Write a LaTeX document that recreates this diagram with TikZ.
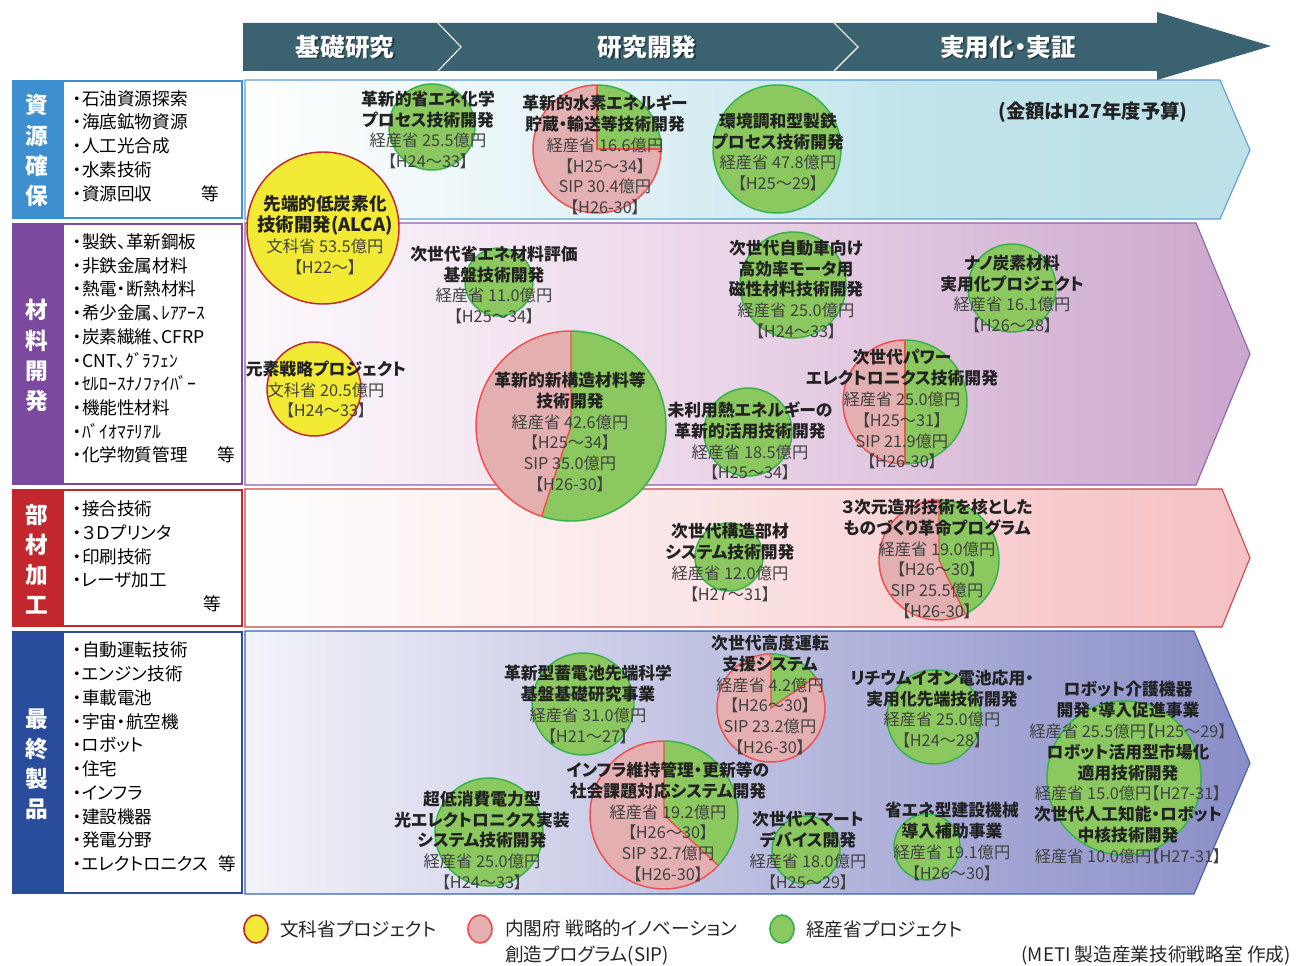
\documentclass[tikz,border=0pt]{standalone}
\usepackage{fontspec}
\setmainfont{Noto Sans CJK JP}[RawFeature={+palt}]
\usepackage{tikz}
\definecolor{hdr}{HTML}{3B6270}
\definecolor{c1}{HTML}{3D8FD0}
\definecolor{c2}{HTML}{7B4A9E}
\definecolor{c3}{HTML}{C1272D}
\definecolor{c4}{HTML}{2A4C9C}
\definecolor{bA}{HTML}{5A9FD4}
\definecolor{bB}{HTML}{8E60AE}
\definecolor{bC}{HTML}{C9444A}
\definecolor{bD}{HTML}{3F61B0}
\definecolor{greenF}{HTML}{8CC860}
\definecolor{greenB}{HTML}{36B24A}
\definecolor{pinkF}{HTML}{E3AFB1}
\definecolor{pinkB}{HTML}{EE5050}
\definecolor{yelF}{HTML}{F2EA35}
\definecolor{yelB}{HTML}{C0272D}
\definecolor{ttl}{HTML}{222222}
\definecolor{dtl}{HTML}{404040}
\definecolor{gA1}{HTML}{E3F2F6}
\definecolor{gA2}{HTML}{C2E4EC}
\definecolor{gA3}{HTML}{BCE1E9}
\definecolor{gB0}{HTML}{FDF9FD}
\definecolor{gB1}{HTML}{EBD6E9}
\definecolor{gB2}{HTML}{CBA6CD}
\definecolor{gC1}{HTML}{FBE4E5}
\definecolor{gC2}{HTML}{F8CED1}
\definecolor{gC3}{HTML}{F5C0C3}
\definecolor{gD0}{HTML}{F3F3F9}
\definecolor{gD1}{HTML}{C0C2E2}
\definecolor{gD2}{HTML}{8A8EC7}
\pgfdeclarehorizontalshading{shA}{100bp}{color(0bp)=(white); color(25bp)=(white); color(42bp)=(gA1); color(58bp)=(gA2); color(75bp)=(gA3); color(100bp)=(gA3)}
\pgfdeclarehorizontalshading{shB}{100bp}{color(0bp)=(gB0); color(25bp)=(gB0); color(48bp)=(gB1); color(75bp)=(gB2); color(100bp)=(gB2)}
\pgfdeclarehorizontalshading{shC}{100bp}{color(0bp)=(white); color(25bp)=(white); color(48bp)=(gC1); color(63bp)=(gC2); color(75bp)=(gC3); color(100bp)=(gC3)}
\pgfdeclarehorizontalshading{shD}{100bp}{color(0bp)=(gD0); color(25bp)=(gD0); color(48bp)=(gD1); color(75bp)=(gD2); color(100bp)=(gD2)}
\newcommand{\tl}[1]{{\fontsize{12.6}{15.6}\selectfont\bfseries\color{ttl}#1}}
% pie: x y r a b  -- pink from visual angle a to b (ccw), green the rest
\newcommand{\pie}[5]{%
  \fill[pinkF] (#1,#2) -- ++({-#4}:#3) arc[start angle={-#4}, end angle={-#5}, radius=#3] -- cycle;
  \fill[greenF] (#1,#2) -- ++({-#5}:#3) arc[start angle={-#5}, end angle={-#4-360}, radius=#3] -- cycle;
  \draw[pinkB, line width=1.1pt] (#1,#2) ++({-#4}:#3) arc[start angle={-#4}, end angle={-#5}, radius=#3];
  \draw[greenB, line width=1.1pt] (#1,#2) ++({-#5}:#3) arc[start angle={-#5}, end angle={-#4-360}, radius=#3];
  \draw[pinkB, line width=1.1pt] (#1,#2) ++({-#4}:#3) -- (#1,#2) -- ++({-#5}:#3);
}
\tikzset{
  every node/.style={inner sep=0pt},
  ptxt/.style={align=center, font=\fontsize{12.2}{15.6}\selectfont, text=dtl},
  gcirc/.style={draw=greenB, fill=greenF, line width=1.1pt},
  ycirc/.style={draw=yelB, fill=yelF, line width=1.1pt},
  lst/.style={align=left, anchor=west, font=\fontsize{13.2}{17.8}\selectfont, text=black},
  vlab/.style={align=center, font=\fontsize{17}{22.6}\selectfont\bfseries, text=white},
  hdrtxt/.style={font=\fontsize{18.5}{20}\selectfont\bfseries, text=white},
  hdrshadow/.style={font=\fontsize{18.5}{20}\selectfont\bfseries, text=black, opacity=0.45},
  lgd/.style={anchor=west, align=left, font=\fontsize{14}{19.5}\selectfont, text=black!85},
}
\begin{document}
\begin{tikzpicture}[x=0.75pt,y=-0.75pt]
\useasboundingbox (0,0) rectangle (1297,966);
\fill[white] (0,0) rectangle (1297,966);

% ---------- row 1 ----------
\path[shade, shading=shA, draw=bA, line width=0.8pt] (245,80) -- (1220,80) -- (1250,150) -- (1220,219) -- (245,219) -- cycle;
\fill[c1] (12,80) rectangle (62,219);
\draw[c1, line width=1.6pt, fill=white] (63,81) rectangle (242,218);
% ---------- row 2 ----------
\path[shade, shading=shB, draw=bB, line width=0.8pt] (245,223) -- (1196,223) -- (1250,354) -- (1196,485) -- (245,485) -- cycle;
\fill[c2] (12,223) rectangle (62,485);
\draw[c2, line width=1.6pt, fill=white] (63,224) rectangle (242,484);
% ---------- row 3 ----------
\path[shade, shading=shC, draw=bC, line width=0.8pt] (245,489) -- (1222,489) -- (1250,558) -- (1222,627) -- (245,627) -- cycle;
\fill[c3] (12,489) rectangle (62,627);
\draw[c3, line width=1.6pt, fill=white] (63,490) rectangle (242,626);
% ---------- row 4 ----------
\path[shade, shading=shD, draw=bD, line width=0.8pt] (245,631) -- (1194,631) -- (1250,763) -- (1194,894) -- (245,894) -- cycle;
\fill[c4] (12,631) rectangle (62,894);
\draw[c4, line width=1.6pt, fill=white] (63,632) rectangle (242,893);

% ---------- header arrow ----------
\fill[hdr] (243,23) -- (1157,23) -- (1157,12) -- (1271,46) -- (1157,80) -- (1157,71) -- (243,71) -- cycle;
\draw[white, line width=0.8pt] (438,23) -- (461,47) -- (438,71);
\draw[white, line width=0.8pt] (834,23) -- (858,47) -- (834,71);
\node[hdrshadow] (h1s) at (346.5,48.5) {基礎研究};
\node[hdrtxt] (h1) at (345,47) {基礎研究};
\node[hdrshadow] (h2s) at (648.5,48.5) {研究開発};
\node[hdrtxt] (h2) at (647,47) {研究開発};
\node[hdrshadow] (h3s) at (1009.5,48.5) {実用化・実証};
\node[hdrtxt] (h3) at (1008,47) {実用化・実証};

% ---------- left labels ----------
\node[vlab] (v1) at (37,150.5) {資\\源\\確\\保};
\node[vlab] (v2) at (37,355.5) {材\\料\\開\\発};
\node[vlab] (v3) at (37,559) {部\\材\\加\\工};
\node[vlab] (v4) at (37,764) {最\\終\\製\\品};

\node[lst] (l1) at (73,146) {・石油資源探索\\・海底鉱物資源\\・人工光合成\\・水素技術\\\makebox[96pt][l]{・資源回収}等};
\node[lst] (l2) at (73,348.5) {・製鉄、革新鋼板\\・非鉄金属材料\\・熱電・断熱材料\\・希少金属、ﾚｱｱｰｽ\\・炭素繊維、CFRP\\・CNT、ｸﾞﾗﾌｪﾝ\\・ｾﾙﾛｰｽﾅﾉﾌｧｲﾊﾞｰ\\・機能性材料\\・ﾊﾞｲｵﾏﾃﾘｱﾙ\\\makebox[108pt][l]{・化学物質管理}等};
\node[lst] (l3) at (73,556.5) {・接合技術\\・３Ｄプリンタ\\・印刷技術\\・レーザ加工\\\makebox[98pt][l]{}等};
\node[lst] (l4) at (73,757) {・自動運転技術\\・エンジン技術\\・車載電池\\・宇宙・航空機\\・ロボット\\・住宅\\・インフラ\\・建設機器\\・発電分野\\\makebox[109pt][l]{・エレクトロニクス}等};

% ---------- circles ----------
\draw[gcirc] (432,127) circle[radius=43];
\pie{597}{149}{64}{90}{360}
\draw[gcirc] (777,149) circle[radius=64];
\draw[ycirc] (323,228) circle[radius=76];
\draw[gcirc] (499,282) circle[radius=34];
\draw[ycirc] (314,389) circle[radius=47];
\pie{571}{426}{95}{90}{252}
\draw[gcirc] (793,285) circle[radius=53];
\draw[gcirc] (1012,288) circle[radius=44];
\pie{905}{402}{62}{90}{270}
\draw[gcirc] (748,432) circle[radius=44];
\draw[gcirc] (729,557) circle[radius=34];
\pie{939}{560}{60}{90}{296}
\draw[gcirc] (583,704) circle[radius=51];
\pie{771}{708}{54}{90}{395}
\draw[gcirc] (934,717) circle[radius=47];
\draw[gcirc] (1124,778) circle[radius=77];
\pie{664}{815}{74}{90}{317}
\draw[gcirc] (489,832) circle[radius=54];
\draw[gcirc] (806,850) circle[radius=34];
\draw[gcirc] (927,847) circle[radius=33];

% ---------- texts ----------
\node[ptxt] (t1) at (428,130) {\tl{革新的省エネ化学}\\\tl{プロセス技術開発}\\経産省 25.5億円\\【H24～33】};
\node[ptxt] (t2) at (605,155) {\tl{革新的水素エネルギー}\\\tl{貯蔵・輸送等技術開発}\\経産省 16.6億円\\【H25～34】\\SIP 30.4億円\\【H26-30】};
\node[ptxt] (t3) at (778,152) {\tl{環境調和型製鉄}\\\tl{プロセス技術開発}\\経産省 47.8億円\\【H25～29】};
\node[font=\fontsize{14.5}{16}\selectfont\bfseries, text=ttl] (note) at (1093,112) {(金額はH27年度予算)};
\node[ptxt] (t4) at (325,235) {{\fontsize{13.2}{15.6}\selectfont\bfseries\color{ttl}先端的低炭素化}\\{\fontsize{13.8}{15.6}\selectfont\bfseries\color{ttl}技術開発(ALCA)}\\文科省 53.5億円\\【H22～】};
\node[ptxt] (t5) at (494,285) {\tl{次世代省エネ材料評価}\\\tl{基盤技術開発}\\経産省 11.0億円\\【H25～34】};
\node[ptxt] (t6) at (326,389.5) {\tl{元素戦略プロジェクト}\\文科省 20.5億円\\【H24～33】};
\node[ptxt] (t7) at (570,432) {\tl{革新的新構造材料等}\\\tl{技術開発}\\経産省 42.6億円\\【H25～34】\\SIP 35.0億円\\【H26-30】};
\node[ptxt] (t8) at (796,289.5) {\tl{次世代自動車向け}\\\tl{高効率モータ用}\\\tl{磁性材料技術開発}\\経産省 25.0億円\\【H24～33】};
\node[ptxt] (t9) at (1012,294) {\tl{ナノ炭素材料}\\\tl{実用化プロジェクト}\\経産省 16.1億円\\【H26～28】};
\node[ptxt] (t10) at (902,409.5) {\tl{次世代パワー}\\\tl{エレクトロニクス技術開発}\\経産省 25.0億円\\【H25～31】\\SIP 21.9億円\\【H26-30】};
\node[ptxt] (t11) at (750,441) {\tl{未利用熱エネルギーの}\\\tl{革新的活用技術開発}\\経産省 18.5億円\\【H25～34】};
\node[ptxt] (t12) at (730,562.5) {\tl{次世代構造部材}\\\tl{システム技術開発}\\経産省 12.0億円\\【H27～31】};
\node[ptxt] (t13) at (937,559) {\tl{３次元造形技術を核とした}\\\tl{ものづくり革命プログラム}\\経産省 19.0億円\\【H26～30】\\SIP 25.5億円\\【H26-30】};
\node[ptxt] (t14) at (588,704.5) {\tl{革新型蓄電池先端科学}\\\tl{基盤基礎研究事業}\\経産省 31.0億円\\【H21～27】};
\node[ptxt] (t15) at (770,695) {\tl{次世代高度運転}\\\tl{支援システム}\\経産省 4.2億円\\【H26～30】\\SIP 23.2億円\\【H26-30】};
\node[ptxt] (t16) at (942,709) {\tl{リチウムイオン電池応用・}\\\tl{実用化先端技術開発}\\経産省 25.0億円\\【H24～28】};
\node[ptxt] (t17) at (1128,772.5) {\tl{ロボット介護機器}\\\tl{開発・導入促進事業}\\経産省 25.5億円【H25～29】\\\tl{ロボット活用型市場化}\\\tl{適用技術開発}\\経産省 15.0億円【H27-31】\\\tl{次世代人工知能・ロボット}\\\tl{中核技術開発}\\経産省 10.0億円【H27-31】};
\node[ptxt] (t18) at (668,822) {\tl{インフラ維持管理・更新等の}\\\tl{社会課題対応システム開発}\\経産省 19.2億円\\【H26～30】\\SIP 32.7億円\\【H26-30】};
\node[ptxt] (t19) at (482,840.5) {\tl{超低消費電力型}\\\tl{光エレクトロニクス実装}\\\tl{システム技術開発}\\経産省 25.0億円\\【H24～33】};
\node[ptxt] (t20) at (808,850.5) {\tl{次世代スマート}\\\tl{デバイス開発}\\経産省 18.0億円\\【H25～29】};
\node[ptxt] (t21) at (952,841.5) {\tl{省エネ型建設機械}\\\tl{導入補助事業}\\経産省 19.1億円\\【H26～30】};

% ---------- legend ----------
\draw[yelB, fill=yelF, line width=1.2pt] (256,929) ellipse[x radius=12, y radius=14];
\node[lgd] (g1) at (280,929) {文科省プロジェクト};
\draw[pinkB, fill=pinkF, line width=1.2pt] (480,929) ellipse[x radius=12, y radius=14];
\node[lgd] (g2) at (505,942) {内閣府 戦略的イノベーション\\創造プログラム(SIP)};
\draw[greenB, fill=greenF, line width=1.2pt] (782,929) ellipse[x radius=12, y radius=14];
\node[lgd] (g3) at (806,929) {経産省プロジェクト};
\node[anchor=east, font=\fontsize{14}{15}\selectfont, text=black!85] (src) at (1291,955) {(METI 製造産業技術戦略室 作成)};
\end{tikzpicture}
\end{document}
